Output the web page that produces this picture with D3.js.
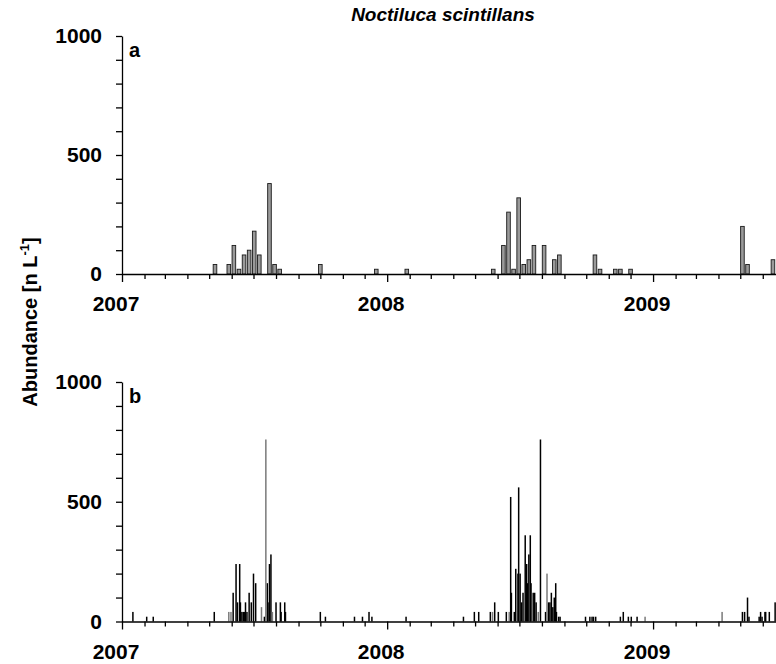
<!DOCTYPE html>
<html><head><meta charset="utf-8">
<script src="https://cdn.jsdelivr.net/npm/d3@7"></script>
<style>
body{margin:0;background:#fff}
svg{display:block;font-family:"Liberation Sans",Arial,sans-serif}
</style>
</head><body>
<svg id="chart" width="776" height="664"></svg>
<script>
// ---------- data ----------
const chartTitle = "Noctiluca scintillans";
const yAxisTitle = "Abundance [n L";
const yLabelValues = [0, 500, 1000];
const yearLabels = ["2007", "2008", "2009"];
const panelLetters = ["a", "b"];

// Panel a: weekly samples
const datesA = ["2007-05-09","2007-05-28","2007-06-04","2007-06-11","2007-06-18","2007-06-25","2007-07-02","2007-07-09","2007-07-23","2007-07-30","2007-08-06","2007-10-01","2007-12-17","2008-01-28","2008-05-26","2008-06-09","2008-06-16","2008-06-23","2008-06-30","2008-07-07","2008-07-14","2008-07-21","2008-08-04","2008-08-18","2008-08-25","2008-10-13","2008-10-20","2008-11-10","2008-11-17","2008-12-01","2009-05-04","2009-05-11","2009-06-15"];
const valuesA = [40,40,120,20,80,100,180,80,380,40,20,40,20,20,20,120,260,20,320,40,60,120,120,60,80,80,20,20,20,20,200,40,60];

// Panel b: high-frequency samples (group 0 = black, 1 = grey)
const datesB = ["2007-01-16","2007-02-04","2007-02-13","2007-05-08","2007-05-28","2007-05-31","2007-06-03","2007-06-07","2007-06-09","2007-06-12","2007-06-13","2007-06-15","2007-06-17","2007-06-19","2007-06-20","2007-06-22","2007-06-25","2007-06-28","2007-07-01","2007-07-04","2007-07-12","2007-07-16","2007-07-18","2007-07-20","2007-07-21","2007-07-23","2007-07-25","2007-07-27","2007-08-01","2007-08-07","2007-08-08","2007-08-13","2007-08-14","2007-10-01","2007-10-08","2007-11-17","2007-11-28","2007-12-07","2007-12-11","2008-01-27","2008-04-15","2008-04-30","2008-05-06","2008-05-22","2008-05-25","2008-05-28","2008-06-02","2008-06-13","2008-06-17","2008-06-19","2008-06-20","2008-06-24","2008-06-26","2008-06-29","2008-06-30","2008-07-02","2008-07-04","2008-07-06","2008-07-09","2008-07-11","2008-07-12","2008-07-14","2008-07-16","2008-07-17","2008-07-20","2008-07-22","2008-07-24","2008-07-27","2008-07-30","2008-08-06","2008-08-08","2008-08-10","2008-08-12","2008-08-14","2008-08-16","2008-08-18","2008-08-20","2008-08-21","2008-08-24","2008-08-26","2008-09-30","2008-10-06","2008-10-09","2008-10-11","2008-10-14","2008-11-17","2008-11-21","2008-11-28","2008-12-02","2008-12-10","2008-12-21","2009-04-06","2009-05-04","2009-05-07","2009-05-11","2009-05-13","2009-05-27","2009-05-29","2009-05-31","2009-06-04","2009-06-05","2009-06-10","2009-06-18"];
const valuesB = [40,20,20,40,40,40,120,240,80,240,80,40,40,40,80,40,120,80,200,160,60,20,760,160,80,240,280,40,80,80,40,80,40,40,20,20,20,40,20,20,20,40,40,40,40,80,40,40,40,520,120,40,220,200,560,200,80,120,360,240,160,280,360,160,120,120,80,40,760,40,200,80,80,120,60,100,160,40,20,20,20,20,20,20,20,20,40,20,20,20,20,40,40,40,100,20,20,40,20,40,40,40,80];
const groupB = [0,0,0,0,1,1,0,0,0,0,0,0,0,0,0,0,0,0,0,0,1,0,1,0,0,0,0,1,0,0,0,0,0,0,0,0,0,0,0,0,0,0,0,0,1,0,0,0,1,0,0,0,0,0,0,0,0,0,0,0,0,0,0,0,0,0,0,1,0,0,1,0,0,0,0,0,0,0,0,0,0,0,0,0,0,0,0,0,0,0,1,1,0,0,0,0,0,0,0,0,0,0,0];

// ---------- drawing ----------
const parse = d3.timeParse("%Y-%m-%d");
const svg = d3.select("#chart");

const x = d3.scaleTime()
  .domain([parse("2007-01-01"), parse("2009-07-01")])
  .range([122, 122 + 912 * 0.7265]);

const panels = [
  {y0: 274, y1: 36, letter: panelLetters[0]},
  {y0: 621.5, y1: 382, letter: panelLetters[1]}
];

panels.forEach((p, i) => {
  const y = d3.scaleLinear().domain([0, 1000]).range([p.y0, p.y1]);
  const g = svg.append("g");

  // bars
  if (i === 0) {
    g.selectAll("rect.bar").data(datesA.map((d, k) => ({d: parse(d), v: valuesA[k]})))
      .join("rect")
      .attr("x", d => x(d.d) - 1.8)
      .attr("width", 3.6)
      .attr("y", d => y(d.v))
      .attr("height", d => y(0) - y(d.v))
      .attr("fill", "#9a9a9a")
      .attr("stroke", "#1a1a1a")
      .attr("stroke-width", 0.9);
  } else {
    const data = datesB.map((d, k) => ({d: parse(d), v: valuesB[k], g: groupB[k]}));
    data.sort((a, b) => a.g - b.g);
    g.selectAll("rect.bar").data(data)
      .join("rect")
      .attr("x", d => x(d.d) - 0.75)
      .attr("width", 1.5)
      .attr("y", d => y(d.v))
      .attr("height", d => y(0) - y(d.v))
      .attr("fill", d => d.g ? "#7a7a7a" : "#000");
  }

  // y axis
  const ya = d3.axisLeft(y).tickValues(d3.range(0, 1001, 100))
    .tickSize(6).tickSizeOuter(0).tickPadding(14)
    .tickFormat(d => yLabelValues.includes(d) ? d : "");
  const yg = g.append("g").attr("transform", "translate(122,0)").call(ya);
  yg.selectAll("text").attr("font-size", 21).attr("font-weight", "bold")
    .attr("fill", "#000").attr("font-family", '"Liberation Sans",Arial,sans-serif');
  yg.selectAll("path,line").attr("stroke", "#000").attr("stroke-width", 1.3);

  // x axis
  const xa = d3.axisBottom(x).ticks(d3.timeMonth.every(1))
    .tickSize(5).tickSizeOuter(0).tickFormat("");
  const xg = g.append("g").attr("transform", `translate(0,${p.y0})`).call(xa);
  xg.selectAll("path,line").attr("stroke", "#000").attr("stroke-width", 1.3);
  xg.selectAll(".tick line").filter(d => d.getMonth() === 0).attr("y2", 8);

  // year labels
  g.selectAll("text.year").data(yearLabels).join("text")
    .attr("class", "year")
    .attr("x", d => x(parse(d + "-01-01")) - 6)
    .attr("y", p.y0 + 37)
    .attr("text-anchor", "middle")
    .attr("font-size", 21).attr("font-weight", "bold")
    .text(d => d);

  // panel letter
  g.append("text").attr("x", 129).attr("y", p.y1 + 21)
    .attr("font-size", 20).attr("font-weight", "bold").text(p.letter);
});

// title
svg.append("text").attr("x", 443).attr("y", 21)
  .attr("text-anchor", "middle").attr("font-size", 19)
  .attr("font-weight", "bold").attr("font-style", "italic")
  .text(chartTitle);

// y axis title
const yt = svg.append("text")
  .attr("transform", "translate(37,322) rotate(-90)")
  .attr("text-anchor", "middle").attr("font-size", 20).attr("font-weight", "bold");
yt.append("tspan").text(yAxisTitle);
yt.append("tspan").attr("font-size", 13).attr("dy", -8).text("-1");
yt.append("tspan").attr("dy", 8).text("]");
</script>
</body></html>
